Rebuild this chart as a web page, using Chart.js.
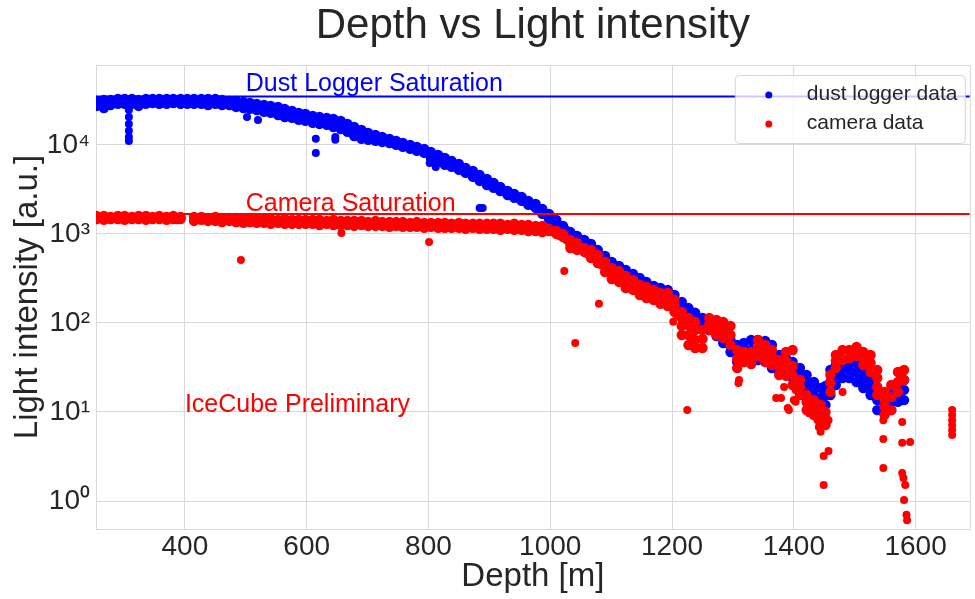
<!DOCTYPE html>
<html>
<head>
<meta charset="utf-8">
<script src="https://cdn.jsdelivr.net/npm/chart.js@4.4.0/dist/chart.umd.min.js"></script>
<style>
    html, body { margin: 0; padding: 0; background: #fff; }
    canvas { display: block; }
</style>
</head>
<body>
<canvas id="depthChart" width="975" height="599"></canvas>
<script>
// Configuración global
Chart.defaults.font.family = "'Liberation Sans', Arial, sans-serif";
Chart.defaults.color = '#262626';
Chart.defaults.animation = false;

const colors = {
    dust: '#0000ff',
    camera: '#ff0000',
    text: '#262626',
    grid: '#d9d9d9'
};

// Ejes
const xMin = 254;
const xMax = 1689;
const yMin = 0.485;
const yMax = 79000;
const xTicks = [400, 600, 800, 1000, 1200, 1400, 1600];
const yTicks = [1, 10, 100, 1000, 10000];
const yTickLabels = ['10⁰', '10¹', '10²', '10³', '10⁴'];

// Saturaciones
const dustSaturation = 35000;
const cameraSaturation = 1680;

// Dust logger: banda (borde alto / borde bajo) por profundidad
const dustDepth = [
    255, 267, 278, 290, 301, 313, 324, 336, 347, 358,
    370, 381, 393, 404, 415, 427, 438, 450, 461, 473,
    484, 496, 507, 518, 530, 541, 553, 564, 576, 587,
    598, 610, 621, 633, 644, 656, 667, 678, 690, 701,
    713, 724, 736, 747, 758, 770, 781, 793, 804, 816,
    827, 838, 850, 861, 873, 884, 896, 907, 918, 930,
    941, 953, 964, 976, 987, 998, 1010, 1021, 1033, 1044,
    1056, 1067, 1078, 1090, 1101, 1113, 1124, 1136, 1147, 1158,
    1170, 1181, 1193, 1204, 1216, 1227, 1238, 1250, 1261, 1273,
    1284, 1296, 1307, 1318, 1330, 1341, 1353, 1364, 1376, 1387,
    1398, 1410, 1421, 1433, 1444,
    1452, 1460, 1469, 1480, 1491, 1503, 1514, 1526, 1537, 1549, 1560, 1571, 1581
];
const dustHigh = [
    31200, 32000, 32000, 32900, 32900, 32900, 32000, 32900, 32900, 32900,
    32900, 32900, 32900, 32900, 32900, 32900, 32900, 32900, 32000, 31200,
    31200, 30400, 29600, 28900, 28100, 27400, 26700, 25400, 24100, 22900,
    22300, 21200, 20600, 20100, 19600, 18600, 17200, 15900, 14700, 13600,
    12900, 12300, 11700, 11100, 10500, 10000, 9500, 9020, 8340, 7720,
    7140, 6610, 6120, 5510, 5100, 4600, 4150, 3740, 3370, 3040,
    2810, 2600, 2350, 2170, 1910, 1680, 1440, 1230, 1050, 950,
    856, 772, 661, 566, 485, 437, 394, 355, 320, 289,
    260, 247, 235, 206, 172, 147, 130, 114, 108, 95,
    77.2, 64.4, 56.6, 59.6, 64.4, 64.4, 62.8, 56.6, 43.7, 40.4,
    36.5, 31.2, 26.0, 21.7, 18.6,
    19.6, 29.6, 33.7, 38.4, 36.5, 35.5, 29.6, 24.1, 17.7, 14.4, 15.5, 19.6, 22.9
];
const dustLow = [
    27400, 26000, 28100, 28900, 28900, 28900, 27400, 28900, 29600, 28900,
    28900, 29600, 28900, 28900, 28900, 28900, 28100, 28900, 28100, 28100,
    26700, 26000, 25400, 24700, 23500, 22900, 21700, 20600, 20100, 19100,
    18600, 17700, 17200, 16800, 15900, 15100, 14000, 12600, 11700, 11400,
    11100, 10800, 10500, 10000, 9500, 9020, 8560, 8130, 7140, 6440,
    5960, 5660, 5240, 4850, 4370, 3940, 3550, 3290, 3040, 2740,
    2540, 2350, 2120, 1960, 1680, 1470, 1230, 1080, 950, 856,
    752, 661, 581, 485, 437, 384, 346, 312, 281, 254,
    229, 212, 191, 164, 140, 120, 105, 92.5, 83.4, 71.4,
    59.6, 47.2, 36.5, 36.5, 38.4, 38.4, 36.5, 31.2, 28.1, 26.0,
    24.1, 20.6, 17.7, 15.1, 11.1,
    12.0, 15.5, 20.1, 24.1, 24.1, 21.7, 18.6, 15.5, 10.5, 9.5, 10.5, 13.0, 13.6
];
// Centro de la banda entre muestras
const dustMidDepth = [
    261, 273, 284, 296, 307, 319, 330, 341, 353, 364,
    376, 387, 398, 410, 421, 433, 444, 456, 467,
    478, 490, 501, 513, 524, 535, 547, 558, 570, 581,
    593, 604, 615, 627, 638, 650, 661, 673, 684, 695,
    707, 718, 730, 741, 752, 764, 775, 787, 798, 810,
    821, 833, 844, 855, 867, 878, 890, 901, 912, 924,
    935, 947, 958, 970, 981, 992, 1004, 1015, 1027, 1038,
    1050, 1061, 1072, 1084, 1095, 1107, 1118, 1129, 1141, 1152,
    1164, 1175, 1187, 1198, 1209, 1221, 1232, 1244, 1255, 1267
];
const dustMidValue = [
    30000, 30400, 30800, 30800, 30800, 30400, 30800, 30800, 30800, 30800,
    30800, 30800, 30800, 30800, 30800, 30800, 30400, 30800, 30400,
    28880, 28140, 27790, 27080, 26040, 25380, 24740, 23490, 22300, 21460,
    20640, 19860, 19100, 18610, 18130, 17220, 15520, 14740, 13640, 12780,
    12300, 11680, 11380, 10810, 10260, 9740, 9250, 8790, 8130, 7330,
    6780, 6280, 5885, 5375, 4970, 4485, 4045, 3645, 3370, 3040,
    2780, 2570, 2350, 2145, 1910, 1680, 1440, 1230, 1080, 950,
    856, 772, 661, 566, 485, 431, 389, 351, 316, 285,
    257, 235, 220, 196, 166, 144, 125, 109, 98.7, 87.9
];
// Interior de la banda donde es ancha
const dustFillDepth = [
    1273, 1284, 1296, 1307, 1318, 1330, 1341, 1353, 1364, 1376,
    1387, 1398, 1410, 1421, 1433, 1444, 1452, 1460, 1469, 1480,
    1491, 1503, 1514, 1526, 1537, 1549, 1560, 1571, 1581
];
const dustFillValue = [
    83.4, 67.8, 55.2, 46.0, 47.2, 49.7, 49.7, 48.4, 42.6, 35.5,
    32.8, 29.6, 25.3, 21.7, 18.2, 14.4, 15.5, 21.7, 26.0, 30.4,
    29.6, 28.1, 23.5, 19.6, 13.6, 11.7, 13.0, 16.0, 17.7
];
// Puntos sueltos
const dustOutlierDepth = [308, 308, 308, 308, 308, 308, 502, 520, 615, 615, 647, 647, 802, 812, 884, 889];
const dustOutlierValue = [24700, 20600, 17200, 14400, 12300, 11100, 20600, 19100, 11700, 8130, 12300, 11400, 6280, 5660, 1960, 1960];

// Cámara: banda
const cameraDepth = [
    255, 267, 278, 290, 301, 313, 324, 336, 347, 358, 370, 381, 393,
    415, 427, 438, 450, 461, 473, 484,
    496, 507, 518, 530, 541, 553, 564, 576, 587, 598,
    610, 621, 633, 644, 656, 667, 678, 690, 701, 713, 724, 736, 747, 758, 770, 781, 793,
    804, 816, 827, 838, 850, 861, 873, 884, 896, 907, 918, 930, 941, 953, 964, 976, 987,
    998, 1010, 1021, 1033, 1044, 1056, 1067, 1078, 1090, 1101,
    1113, 1124, 1136, 1147, 1158, 1170, 1181, 1193, 1204, 1216,
    1227, 1238, 1250, 1261, 1273, 1284, 1296, 1307, 1318, 1330,
    1341, 1353, 1364, 1376, 1387, 1398, 1410, 1421, 1433, 1444,
    1452, 1460, 1469, 1480, 1491, 1503, 1514, 1526, 1537, 1549, 1560, 1571, 1581
];
const cameraHigh = [
    1590, 1590, 1550, 1590, 1590, 1550, 1590, 1590, 1550, 1590, 1550, 1590, 1550,
    1550, 1550, 1510, 1550, 1510, 1510, 1510,
    1470, 1510, 1470, 1470, 1470, 1440, 1470, 1440, 1440, 1440,
    1440, 1440, 1400, 1440, 1400, 1400, 1400, 1400, 1360, 1400, 1360, 1360, 1360, 1360, 1330, 1360, 1330,
    1330, 1330, 1330, 1300, 1330, 1300, 1300, 1300, 1300, 1300, 1300, 1260, 1300, 1260, 1260, 1230, 1230,
    1140, 1080, 1000, 856, 793, 696, 661, 581, 485, 415,
    384, 337, 304, 267, 254, 235, 217, 217, 181, 133,
    114, 103, 83.4, 114, 108, 103, 92.5, 49.7, 47.2, 47.2,
    64.4, 56.6, 49.7, 38.4, 47.2, 49.7, 22.9, 15.5, 13.6, 12.0,
    10.0, 26.0, 43.7, 49.7, 49.7, 53.7, 47.2, 43.7, 29.6, 16.8, 20.1, 28.1, 29.6
];
const cameraLow = [
    1470, 1440, 1470, 1470, 1440, 1470, 1470, 1440, 1470, 1470, 1440, 1470, 1470,
    1400, 1440, 1400, 1400, 1360, 1400, 1360,
    1330, 1360, 1330, 1330, 1300, 1330, 1300, 1300, 1300, 1300,
    1300, 1260, 1300, 1260, 1260, 1260, 1230, 1260, 1230, 1230, 1230, 1200, 1230, 1200, 1200, 1200, 1170,
    1200, 1170, 1170, 1170, 1170, 1140, 1170, 1140, 1140, 1140, 1110, 1140, 1110, 1110, 1080, 1080, 1050,
    1080, 1000, 925, 696, 661, 628, 537, 472, 374, 312,
    289, 247, 235, 206, 191, 181, 164, 155, 133, 73.3,
    56.6, 52.4, 52.4, 83.4, 73.3, 67.8, 56.6, 31.2, 36.5, 34.6,
    42.6, 36.5, 33.7, 26.0, 29.6, 20.1, 15.5, 10.5, 9.25, 8.1,
    7.14, 16.8, 31.2, 38.4, 40.4, 42.6, 33.7, 28.1, 15.5, 9.25, 10.5, 16.8, 22.9
];
const cameraMidDepth = [
    261, 273, 284, 296, 307, 319, 330, 341, 353, 364, 376, 387,
    421, 433, 444, 456, 467, 478, 490, 501, 513, 524, 535,
    547, 558, 570, 581, 593, 604, 615, 627, 638, 650, 661,
    673, 684, 695, 707, 718, 730, 741, 752, 764, 775, 787,
    798, 810, 821, 833, 844, 855, 867, 878, 890, 901, 912,
    924, 935, 947, 958, 970, 981, 992,
    1004, 1015, 1027, 1038, 1050, 1061, 1072, 1084, 1095, 1107,
    1118, 1129, 1141, 1152, 1164, 1175, 1187, 1198, 1209
];
const cameraMidValue = [
    1510, 1510, 1510, 1510, 1510, 1510, 1510, 1510, 1510, 1510, 1510, 1470,
    1470, 1470, 1470, 1440, 1440, 1440, 1400, 1400, 1400, 1400, 1400,
    1360, 1360, 1360, 1360, 1360, 1360, 1330, 1330, 1330, 1330, 1300,
    1300, 1300, 1300, 1300, 1300, 1260, 1260, 1260, 1260, 1260, 1260,
    1260, 1230, 1230, 1230, 1230, 1230, 1200, 1200, 1200, 1200, 1200,
    1200, 1170, 1170, 1170, 1140, 1140, 1100,
    1080, 975, 878, 752, 678, 611, 537, 460, 384, 337,
    296, 274, 242, 223, 206, 191, 181, 168, 124
];
const cameraFillDepth = [
    1033, 1067, 1078, 1090, 1101, 1113, 1124, 1136, 1147, 1158,
    1170, 1181, 1193, 1204, 1216, 1216, 1227, 1227, 1238, 1238,
    1250, 1261, 1273, 1284, 1296, 1307, 1318, 1330, 1341, 1353,
    1364, 1376, 1387, 1398, 1398, 1410, 1421, 1433, 1444, 1452,
    1460, 1469, 1514, 1526, 1537, 1537, 1549, 1549, 1560, 1571
];
const cameraFillValue = [
    772, 596, 524, 426, 365, 337, 289, 267, 235, 223,
    206, 191, 181, 155, 114, 92.5, 95, 73.3, 83.4, 64.4,
    66.1, 97.4, 90, 83.4, 73.3, 39.4, 41.5, 40.4, 52.4, 46.0,
    41.5, 32.0, 37.4, 32.9, 26.0, 19.1, 13.0, 11.4, 10.0, 8.56,
    21.2, 37.4, 40.4, 35.5, 24.1, 19.1, 13.6, 11.4, 14.7, 21.7
];
const cameraOutlierDepth = [
    492, 657, 801, 1023, 1080, 1041, 1202, 1225, 1660, 1660,
    1660, 1660, 1660, 1660, 1309, 1310, 1371, 1379, 1387, 1384,
    1390, 1392, 1400, 1403, 1403, 1420, 1425, 1436, 1439, 1441,
    1444, 1457, 1480, 1449, 1457, 1449, 1547, 1547, 1547, 1578,
    1578, 1591, 1578, 1580, 1583, 1581, 1585, 1586
];
const cameraOutlierValue = [
    510, 1026, 813, 384, 164, 59.6, 103, 10.5, 10.5, 9.25,
    8.1, 7.14, 6.28, 5.5, 21.2, 22.9, 14.4, 14.4, 24.7, 19.1,
    11.1, 10.5, 13.6, 17.7, 13.0, 12.6, 9.7, 9.7, 8.1, 6.8,
    6.0, 8.1, 16.8, 3.2, 3.65, 1.51, 4.97, 2.35, 8.1, 7.7,
    4.5, 4.6, 2.07, 1.81, 1.51, 1.03, 0.70, 0.61
];

// Construcción de puntos: banda primero, sueltos al final
function pairUp(depth, value) {
    return depth.map(function (d, i) { return { x: d, y: value[i] }; });
}
function buildBand(depth, high, low, extras) {
    let pts = pairUp(depth, high).concat(pairUp(depth, low));
    extras.forEach(function (e) { pts = pts.concat(pairUp(e[0], e[1])); });
    return pts;
}

const dustBand = buildBand(dustDepth, dustHigh, dustLow, [[dustMidDepth, dustMidValue], [dustFillDepth, dustFillValue]]);
const cameraBand = buildBand(cameraDepth, cameraHigh, cameraLow, [[cameraMidDepth, cameraMidValue], [cameraFillDepth, cameraFillValue]]);
const dustPoints = dustBand.concat(pairUp(dustOutlierDepth, dustOutlierValue));
const cameraPoints = cameraBand.concat(pairUp(cameraOutlierDepth, cameraOutlierValue));

// Título, marco, textos y leyenda
const decorPlugin = {
    id: 'decor',
    beforeDatasetsDraw(chart) {
        const { ctx, chartArea: a } = chart;
        ctx.save();
        ctx.strokeStyle = colors.grid;
        ctx.lineWidth = 1;
        ctx.strokeRect(a.left + 0.5, a.top + 0.5, a.right - a.left, a.bottom - a.top);
        ctx.restore();
    },
    afterDatasetsDraw(chart) {
        const { ctx, scales } = chart;
        ctx.save();
        ctx.font = "25px 'Liberation Sans', Arial, sans-serif";
        ctx.textAlign = 'left';
        ctx.textBaseline = 'alphabetic';
        ctx.fillStyle = colors.dust;
        ctx.fillText('Dust Logger Saturation', scales.x.getPixelForValue(500), scales.y.getPixelForValue(40000));
        ctx.fillStyle = colors.camera;
        ctx.fillText('Camera Saturation', scales.x.getPixelForValue(500), scales.y.getPixelForValue(1800));
        ctx.fillText('IceCube Preliminary', scales.x.getPixelForValue(400), scales.y.getPixelForValue(10));
        ctx.restore();
    },
    afterDraw(chart) {
        const { ctx, chartArea: a } = chart;
        ctx.save();
        // título
        ctx.fillStyle = colors.text;
        ctx.font = "42px 'Liberation Sans', Arial, sans-serif";
        ctx.textAlign = 'center';
        ctx.textBaseline = 'middle';
        ctx.fillText('Depth vs Light intensity', (a.left + a.right) / 2, 26);

        // leyenda
        const bx = a.right - 235, by = a.top + 10, bw = 230, bh = 68;
        ctx.beginPath();
        ctx.roundRect(bx + 0.5, by + 0.5, bw, bh, 4);
        ctx.fillStyle = 'rgba(255,255,255,0.8)';
        ctx.fill();
        ctx.strokeStyle = 'rgba(204,204,204,0.8)';
        ctx.lineWidth = 1;
        ctx.stroke();
        const items = [['dust logger data', colors.dust], ['camera data', colors.camera]];
        ctx.font = "21px 'Liberation Sans', Arial, sans-serif";
        ctx.textAlign = 'left';
        items.forEach(function (it, i) {
            const cy = by + 19 + i * 29;
            ctx.beginPath();
            ctx.arc(bx + 34, cy + 1, 3.5, 0, Math.PI * 2);
            ctx.fillStyle = it[1];
            ctx.fill();
            ctx.fillStyle = colors.text;
            ctx.fillText(it[0], bx + 72, cy);
        });
        ctx.restore();
    }
};

const ctx = document.getElementById('depthChart').getContext('2d');
new Chart(ctx, {
    type: 'scatter',
    data: {
        datasets: [
            {
                label: 'dust logger data',
                data: dustPoints,
                backgroundColor: colors.dust,
                pointRadius: function (c) { return c.dataIndex < dustBand.length ? 5.2 : 4; },
                pointBorderWidth: 0,
                order: 2
            },
            {
                label: 'camera data',
                data: cameraPoints,
                backgroundColor: colors.camera,
                pointRadius: function (c) { return c.dataIndex < cameraBand.length ? 5.2 : 4; },
                pointBorderWidth: 0,
                order: 1
            },
            {
                type: 'line',
                label: 'Dust Logger Saturation',
                data: [{ x: xMin, y: dustSaturation }, { x: xMax, y: dustSaturation }],
                borderColor: colors.dust,
                borderWidth: 2,
                pointRadius: 0,
                order: 0
            },
            {
                type: 'line',
                label: 'Camera Saturation',
                data: [{ x: xMin, y: cameraSaturation }, { x: xMax, y: cameraSaturation }],
                borderColor: colors.camera,
                borderWidth: 2,
                pointRadius: 0,
                order: 0
            }
        ]
    },
    options: {
        responsive: false,
        layout: {
            padding: { top: 65, right: 0, bottom: 0, left: 0 }
        },
        plugins: {
            legend: { display: false },
            tooltip: { enabled: false },
            title: { display: false }
        },
        scales: {
            x: {
                type: 'linear',
                min: xMin,
                max: xMax,
                afterBuildTicks: function (scale) {
                    scale.ticks = xTicks.map(function (v) { return { value: v }; });
                },
                afterFit: function (scale) { scale.height = 70; },
                grid: { color: colors.grid, drawTicks: false },
                border: { display: false },
                ticks: {
                    color: colors.text,
                    font: { size: 28 },
                    padding: 1,
                    maxRotation: 0,
                    autoSkip: false,
                    callback: function (value) { return String(value); }
                },
                title: {
                    display: true,
                    text: 'Depth [m]',
                    color: colors.text,
                    font: { size: 33 },
                    padding: { top: 0, bottom: 2 }
                }
            },
            y: {
                type: 'logarithmic',
                min: yMin,
                max: yMax,
                afterBuildTicks: function (scale) {
                    scale.ticks = yTicks.map(function (v) { return { value: v }; });
                },
                afterFit: function (scale) { scale.width = 96; },
                grid: { color: colors.grid, drawTicks: false },
                border: { display: false },
                ticks: {
                    color: colors.text,
                    font: { size: 28 },
                    padding: 6,
                    autoSkip: false,
                    callback: function (value, index) {
                        return yTickLabels[index];
                    }
                },
                title: {
                    display: true,
                    text: 'Light intensity [a.u.]',
                    color: colors.text,
                    font: { size: 33 },
                    padding: { top: 8, bottom: 0 }
                }
            }
        }
    },
    plugins: [decorPlugin]
});
</script>
</body>
</html>
